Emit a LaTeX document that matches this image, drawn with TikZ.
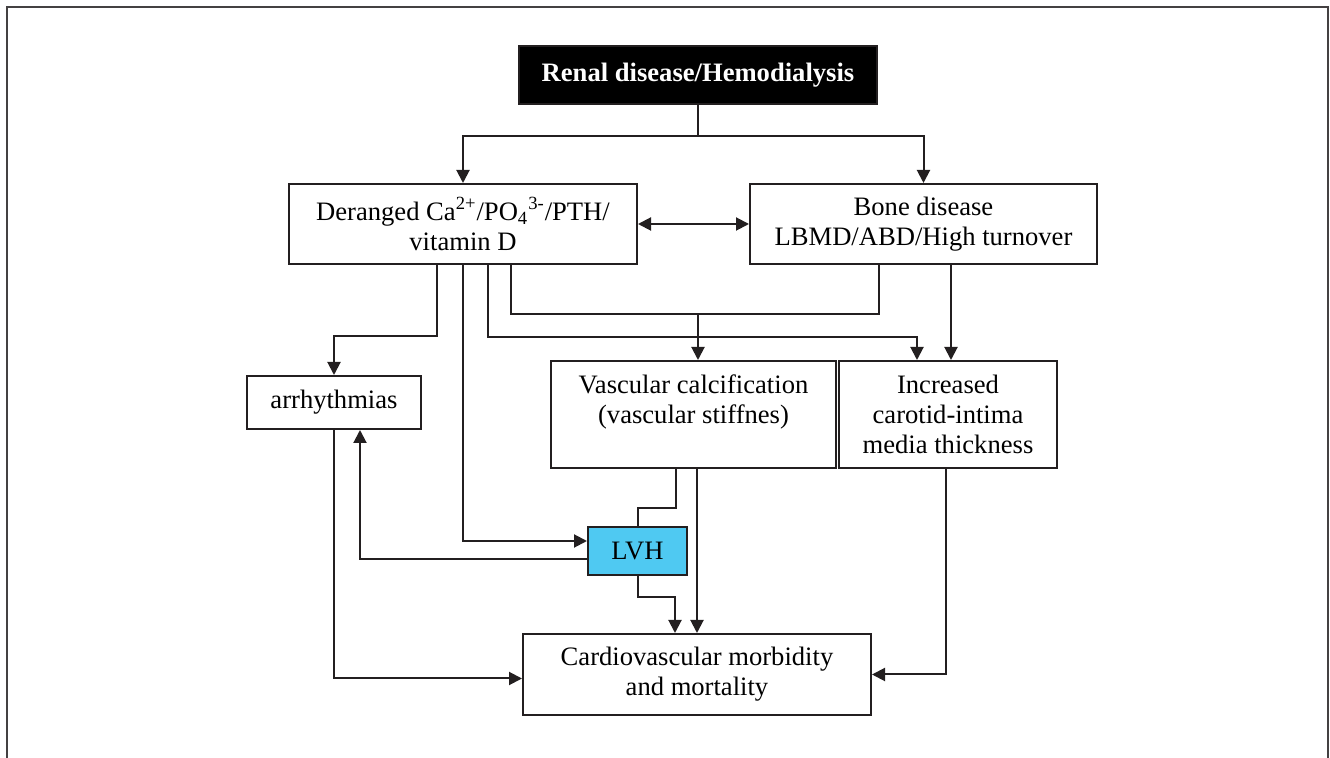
\documentclass[tikz,border=0pt]{standalone}
\usepackage{fontspec}
\setmainfont{Liberation Serif}
\usetikzlibrary{arrows.meta,calc}

\definecolor{ink}{HTML}{231F20}
\definecolor{lvhblue}{HTML}{4FC9F2}

\tikzset{
  box/.style={draw=ink, line width=1pt, align=center, inner sep=0pt,
    font=\fontsize{13.3}{15}\selectfont},
  link/.style={draw=ink, line width=1pt},
  arr/.style={link, -{Triangle[length=6.5pt,width=6.5pt]}},
  both/.style={link, {Triangle[length=6.5pt,width=6.5pt]}-{Triangle[length=6.5pt,width=6.5pt]}},
}

\begin{document}
\begin{tikzpicture}[x=0.5pt, y=-0.5pt]
  \useasboundingbox (0,0) rectangle (1330,758);
  \draw[ink!85, line width=1.2pt] (7,770) -- (7,7) -- (1328,7) -- (1328,770);

  % boxes
  \node[box, fill=black, text=white, font=\fontsize{13.3}{15}\selectfont\bfseries,
    minimum width=179pt, minimum height=29pt] (renal) at (698,75) {Renal disease/Hemodialysis};
  \node[box, minimum width=174pt, minimum height=40pt] (deranged) at (463,224)
    {Deranged Ca\textsuperscript{2+}/PO\textsubscript{4}\textsuperscript{3-}/PTH/\\vitamin D};
  \node[box, minimum width=173.5pt, minimum height=40pt] (bone) at (923.5,224)
    {Bone disease\\LBMD/ABD/High turnover};
  \node[box, minimum width=87pt, minimum height=26.5pt] (arrh) at (334,402.5) {arrhythmias};
  \node[box, minimum width=142.5pt, minimum height=53.5pt] (vasc) at (693.5,414.5)
    {Vascular calcification\\(vascular stiffnes)\\\mbox{}};
  \node[box, minimum width=109pt, minimum height=53.5pt] (incr) at (948,414.5)
    {Increased\\carotid-intima\\media thickness};
  \node[box, fill=lvhblue, minimum width=49.5pt, minimum height=24pt] (lvh) at (637.5,551) {LVH};
  \node[box, minimum width=174pt, minimum height=40.5pt] (cardio) at (697,674.5)
    {Cardiovascular morbidity\\and mortality};

  % helper points
  \coordinate (d1) at ($(deranged.south)+(-26,0)$);
  \coordinate (d3) at ($(deranged.south)+(25,0)$);
  \coordinate (d4) at ($(deranged.south)+(48,0)$);
  \coordinate (b1) at ($(bone.south)+(-44.5,0)$);
  \coordinate (b2) at ($(bone.south)+(27.5,0)$);
  \coordinate (join) at (698,314);

  % connectors
  \draw[arr] (renal.south) -- ++(0,31) -| (deranged.north);
  \draw[arr] (renal.south) -- ++(0,31) -| (bone.north);
  \draw[both] (deranged) -- (bone);
  \draw[arr] (d1) -- ++(0,71) -| (arrh.north);
  \draw[arr] (deranged.south) |- ($(lvh.west)+(0,-10)$);
  \draw[arr] (d3) |- ($(incr.north)+(-31,-23)$) -- ($(incr.north)+(-31,0)$);
  \draw[link] (d4) |- (b1 |- join) -- (b1);
  \draw[arr] (join) -- (join |- vasc.north);
  \draw[arr] (b2) -- (b2 |- incr.north);
  \draw[link] ($(vasc.south)+(-17.5,0)$) -- ++(0,39) -| (lvh.north);
  \draw[arr] (cardio.north |- vasc.south) -- (cardio.north);
  \draw[arr] (lvh.south) -- ++(0,21) -| ($(cardio.north)+(-22,0)$);
  \draw[arr] ($(lvh.west)+(0,8)$) -| ($(arrh.south)+(26,0)$);
  \draw[arr] (arrh.south) |- ($(cardio.west)+(0,4)$);
  \draw[arr] ($(incr.south)+(-2,0)$) |- (cardio.east);
\end{tikzpicture}
\end{document}
